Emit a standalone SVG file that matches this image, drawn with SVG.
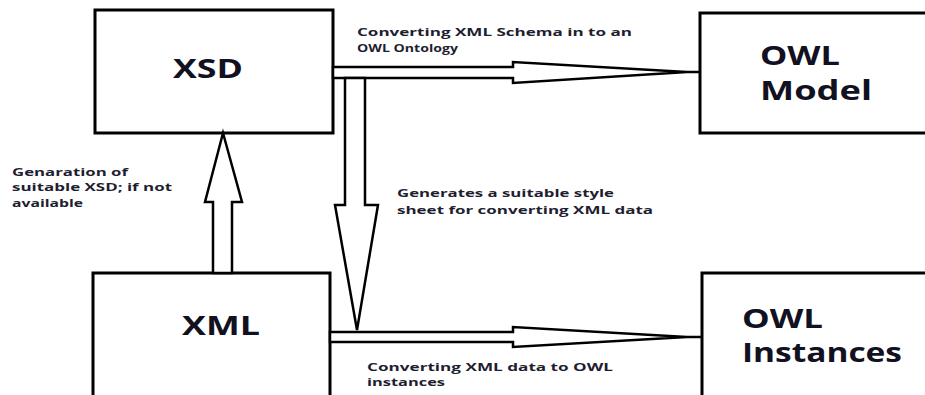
<svg xmlns="http://www.w3.org/2000/svg" width="925" height="395" viewBox="0 0 925 395">
  <style>
    .box { fill: #ffffff; stroke: #000000; stroke-width: 3; }
    .arrow { fill: #ffffff; stroke: #000000; stroke-width: 2.5; stroke-linejoin: miter; }
    .link { stroke: #000000; stroke-width: 2.5; fill: none; }
    .title { font-family: "Open Sans", "Liberation Sans", Arial, sans-serif; font-weight: bold; font-size: 26px; fill: #111122; }
    .note { font-family: "Open Sans", "Liberation Sans", Arial, sans-serif; font-weight: bold; font-size: 11px; fill: #1e1e30; }
  </style>
  <rect width="925" height="395" fill="#ffffff"/>

  <!-- Nodes -->
  <g id="xsd">
    <rect class="box" x="95" y="10" width="238" height="123"/>
    <text class="title" x="173" y="78" textLength="70" lengthAdjust="spacingAndGlyphs">XSD</text>
  </g>
  <g id="owl-model">
    <rect class="box" x="700" y="13" width="240" height="120"/>
    <text class="title" x="760" y="65" textLength="80" lengthAdjust="spacingAndGlyphs">OWL</text>
    <text class="title" x="760" y="100" textLength="112" lengthAdjust="spacingAndGlyphs">Model</text>
  </g>
  <g id="xml">
    <rect class="box" x="93" y="273" width="237" height="140"/>
    <text class="title" x="182" y="335" textLength="78" lengthAdjust="spacingAndGlyphs">XML</text>
  </g>
  <g id="owl-instances">
    <rect class="box" x="702" y="273" width="240" height="140"/>
    <text class="title" x="742" y="328" textLength="81" lengthAdjust="spacingAndGlyphs">OWL</text>
    <text class="title" x="742" y="362" textLength="160" lengthAdjust="spacingAndGlyphs">Instances</text>
  </g>

  <!-- Connectors -->
  <g id="connectors">
    <!-- XSD to OWL Model -->
    <polygon class="arrow" points="333,67 513,67 513,62 687,72 513,83 513,78 333,78"/>
    <line class="link" x1="687" y1="72" x2="700" y2="72"/>
    <!-- XSD down to XML-to-OWL conversion -->
    <polygon class="arrow" points="345,78 365,78 365,205 378,205 357,330 335,205 345,205"/>
    <!-- XML to OWL Instances -->
    <polygon class="arrow" points="330,332 513,332 513,327 687,337 513,347 513,342 330,342"/>
    <line class="link" x1="687" y1="337" x2="702" y2="337"/>
    <!-- XML up to XSD -->
    <polygon class="arrow" points="213,273 213,202 205,202 223,133 242,202 232,202 232,273"/>
  </g>

  <!-- Connector labels -->
  <g id="labels">
    <text class="note" x="357" y="36" textLength="275" lengthAdjust="spacingAndGlyphs">Converting XML Schema in to an</text>
    <text class="note" x="357" y="52" textLength="101" lengthAdjust="spacingAndGlyphs">OWL Ontology</text>
    <text class="note" x="397" y="197" textLength="217" lengthAdjust="spacingAndGlyphs">Generates a suitable style</text>
    <text class="note" x="397" y="214" textLength="256" lengthAdjust="spacingAndGlyphs">sheet for converting XML data</text>
    <text class="note" x="12" y="176" textLength="116" lengthAdjust="spacingAndGlyphs">Genaration of</text>
    <text class="note" x="12" y="191" textLength="160" lengthAdjust="spacingAndGlyphs">suitable XSD; if not</text>
    <text class="note" x="12" y="207" textLength="71" lengthAdjust="spacingAndGlyphs">available</text>
    <text class="note" x="367" y="371" textLength="246" lengthAdjust="spacingAndGlyphs">Converting XML data to OWL</text>
    <text class="note" x="367" y="386" textLength="78" lengthAdjust="spacingAndGlyphs">instances</text>
  </g>
</svg>
